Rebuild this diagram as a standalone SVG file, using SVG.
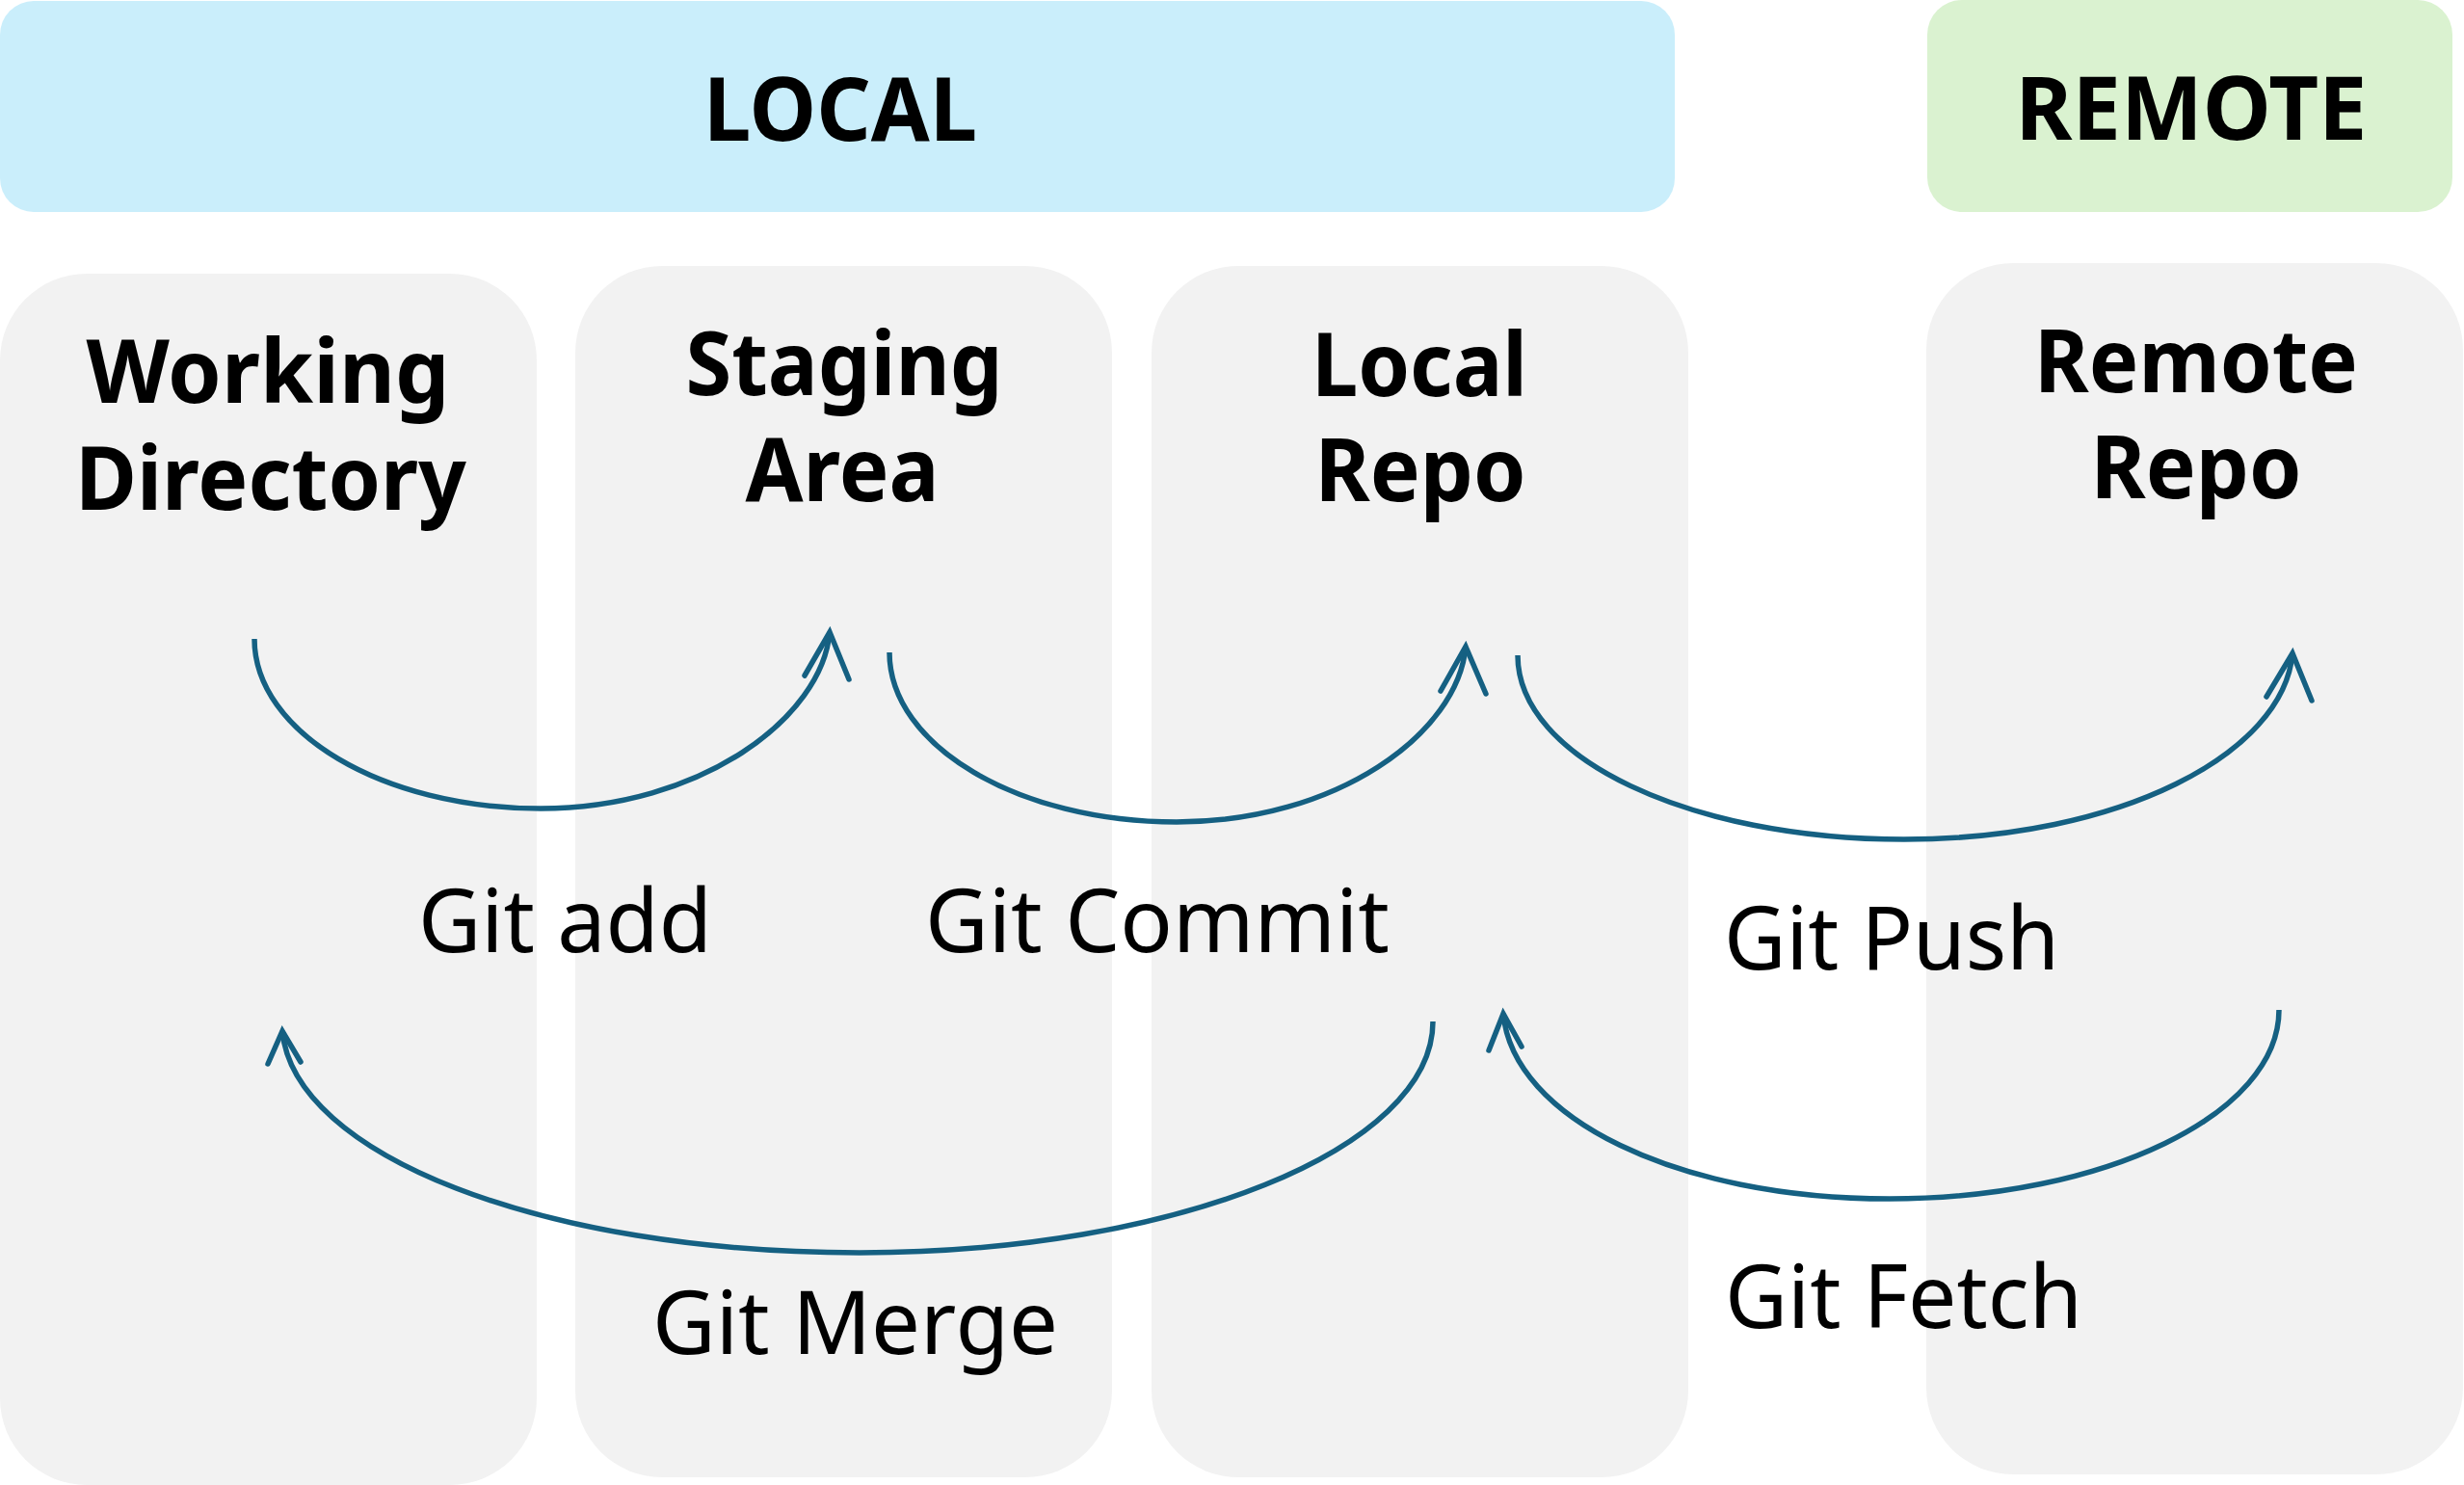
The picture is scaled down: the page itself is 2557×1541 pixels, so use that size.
<svg xmlns="http://www.w3.org/2000/svg" width="2557" height="1541" viewBox="0 0 2557 1541">
<defs>
<style>
.col{fill:#F2F2F2;}
.hdr{font-family:"Noto Sans","Open Sans","Liberation Sans",sans-serif;font-weight:bold;font-size:92px;fill:#000;text-anchor:middle;}
.ttl{font-family:"Noto Sans","Open Sans","Liberation Sans",sans-serif;font-weight:bold;font-size:91px;fill:#000;text-anchor:middle;}
.lbl{font-family:"Noto Sans","Open Sans","Liberation Sans",sans-serif;font-size:92px;fill:#000;}
.arc{fill:none;stroke:#156082;stroke-width:5.5;}
.head{fill:none;stroke:#156082;stroke-width:5.5;stroke-linecap:round;stroke-linejoin:miter;}
</style>
</defs>
<rect width="2557" height="1541" fill="#FFFFFF"/>
<g id="local-header">
<rect x="0" y="1" width="1738" height="219" rx="35" ry="35" fill="#CAEEFB"/>
<text class="hdr" x="872" y="146" textLength="284" lengthAdjust="spacingAndGlyphs">LOCAL</text>
</g>
<g id="remote-header">
<rect x="2000" y="0" width="545" height="220" rx="36" ry="36" fill="#DAF2D0"/>
<text class="hdr" x="2274" y="145" textLength="365" lengthAdjust="spacingAndGlyphs">REMOTE</text>
</g>
<g id="working-directory">
<rect class="col" x="0" y="284" width="557" height="1257" rx="90" ry="90"/>
<text class="ttl" x="278" y="418" textLength="377" lengthAdjust="spacingAndGlyphs">Working</text>
<text class="ttl" x="281" y="529" textLength="406" lengthAdjust="spacingAndGlyphs">Directory</text>
</g>
<g id="staging-area">
<rect class="col" x="597" y="276" width="557" height="1257" rx="90" ry="90"/>
<text class="ttl" x="876" y="410" textLength="329" lengthAdjust="spacingAndGlyphs">Staging</text>
<text class="ttl" x="874" y="520" textLength="201" lengthAdjust="spacingAndGlyphs">Area</text>
</g>
<g id="local-repo">
<rect class="col" x="1195" y="276" width="557" height="1257" rx="90" ry="90"/>
<text class="ttl" x="1473" y="411" textLength="224" lengthAdjust="spacingAndGlyphs">Local</text>
<text class="ttl" x="1474" y="520" textLength="219" lengthAdjust="spacingAndGlyphs">Repo</text>
</g>
<g id="remote-repo">
<rect class="col" x="1999" y="273" width="557" height="1257" rx="90" ry="90"/>
<text class="ttl" x="2279" y="407" textLength="336" lengthAdjust="spacingAndGlyphs">Remote</text>
<text class="ttl" x="2279" y="517" textLength="219" lengthAdjust="spacingAndGlyphs">Repo</text>
</g>
<g id="connectors">
<path class="arc" d="M264,663 C264,760 397,839 561,839 C727,839 853,745 861,656"/>
<polyline class="head" points="835,701 861,656 881,705"/>
<path class="arc" d="M923,677 C923,774 1057,853 1221,853 C1387,853 1513,761 1521,671"/>
<polyline class="head" points="1495,717 1521,671 1542,720"/>
<path class="arc" d="M1575,680 C1575,787 1754,871 1976,871 C2200,871 2370,782 2379,678"/>
<polyline class="head" points="2352,723 2379,678 2399,727"/>
<path class="arc" d="M1487,1060 C1487,1192 1220,1300 892,1300 C562,1300 305,1198 293,1070"/>
<polyline class="head" points="278,1104 293,1070 312,1102"/>
<path class="arc" d="M2365,1048 C2365,1156 2184,1244 1961,1244 C1740,1244 1570,1160 1560,1052"/>
<polyline class="head" points="1545,1090 1560,1052 1579,1086"/>
</g>
<g id="labels">
<text class="lbl" x="434" y="988" textLength="305" lengthAdjust="spacingAndGlyphs">Git add</text>
<text class="lbl" x="960" y="988" textLength="482" lengthAdjust="spacingAndGlyphs">Git Commit</text>
<text class="lbl" x="1789" y="1006" textLength="348" lengthAdjust="spacingAndGlyphs">Git Push</text>
<text class="lbl" x="677" y="1405" textLength="421" lengthAdjust="spacingAndGlyphs">Git Merge</text>
<text class="lbl" x="1790" y="1378" textLength="371" lengthAdjust="spacingAndGlyphs">Git Fetch</text>
</g>
</svg>
